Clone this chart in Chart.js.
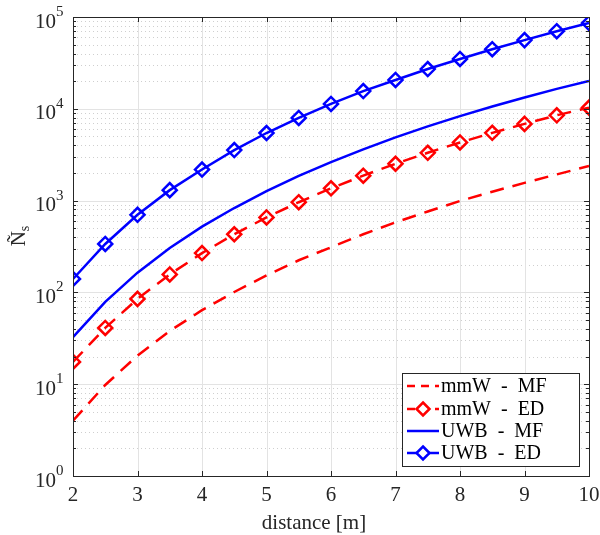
<!DOCTYPE html>
<html>
<head>
<meta charset="utf-8">
<script src="https://cdn.jsdelivr.net/npm/chart.js@4/dist/chart.umd.min.js"></script>
<style>
html,body{margin:0;padding:0;background:#fff;}
#wrap{width:600px;height:535px;}
</style>
</head>
<body>
<div id="wrap"><canvas id="c" width="600" height="535"></canvas></div>
<script>
const distance = [2, 2.5, 3, 3.5, 4, 4.5, 5, 5.5, 6, 6.5, 7, 7.5, 8, 8.5, 9, 9.5, 10];
const mmwMF = [4.0, 9.8, 20.5, 38, 64, 101, 153, 224, 310, 430, 580, 760, 990, 1250, 1560, 1930, 2380];
const mmwED = [17.5, 41, 85, 157, 268, 430, 655, 960, 1360, 1870, 2520, 3320, 4300, 5470, 6850, 8500, 10300];
const uwbMF = [32.5, 79, 164, 305, 520, 830, 1270, 1860, 2630, 3620, 4880, 6430, 8320, 10600, 13300, 16500, 20100];
const uwbED = [140, 337, 700, 1300, 2180, 3550, 5450, 7950, 11300, 15600, 20600, 27100, 34900, 44600, 56000, 70000, 86000];
const seriesNames = ['mmW  -  MF', 'mmW  -  ED', 'UWB  -  MF', 'UWB  -  ED'];
const xTicks = [2, 3, 4, 5, 6, 7, 8, 9, 10];
const yExponents = [0, 1, 2, 3, 4, 5];
const xTitle = 'distance [m]';

const FONT = '"Liberation Serif", "Times New Roman", serif';
const TXT = '#262626';

function pts(arr){ return distance.map((d,i)=>({x:d,y:arr[i]})); }

const datasets = [
  {label: seriesNames[0], data: pts(mmwMF), borderColor:'#ff0000', borderWidth:2.5, borderDash:[14,9], pointRadius:0, fill:false},
  {label: seriesNames[1], data: pts(mmwED), borderColor:'#ff0000', borderWidth:2.5, borderDash:[14,9], pointStyle:'rectRot', pointRadius:7, pointBorderWidth:2.5, pointBackgroundColor:'rgba(0,0,0,0)', pointBorderColor:'#ff0000', fill:false},
  {label: seriesNames[2], data: pts(uwbMF), borderColor:'#0000ff', borderWidth:2.5, pointRadius:0, fill:false},
  {label: seriesNames[3], data: pts(uwbED), borderColor:'#0000ff', borderWidth:2.5, pointStyle:'rectRot', pointRadius:7, pointBorderWidth:2.5, pointBackgroundColor:'rgba(0,0,0,0)', pointBorderColor:'#0000ff', fill:false}
];

const decorPlugin = {
  id:'decor',
  beforeDatasetsDraw(chart){
    const {ctx, chartArea:a, scales:{x,y}} = chart;
    ctx.save();
    ctx.strokeStyle = '#cfcfcf'; ctx.lineWidth = 1; ctx.setLineDash([1,3]);
    for (let e=0;e<5;e++){
      for (let m=2;m<=9;m++){
        const py = Math.round(y.getPixelForValue(m*Math.pow(10,e)))+0.5;
        ctx.beginPath(); ctx.moveTo(a.left,py); ctx.lineTo(a.right,py); ctx.stroke();
      }
    }
    ctx.setLineDash([]);
    ctx.strokeStyle = '#e3e3e3';
    yExponents.forEach(e=>{
      const py = Math.round(y.getPixelForValue(Math.pow(10,e)))+0.5;
      ctx.beginPath(); ctx.moveTo(a.left,py); ctx.lineTo(a.right,py); ctx.stroke();
    });
    xTicks.forEach(v=>{
      const px = Math.round(x.getPixelForValue(v))+0.5;
      ctx.beginPath(); ctx.moveTo(px,a.top); ctx.lineTo(px,a.bottom); ctx.stroke();
    });
    ctx.restore();
  },
  afterDatasetsDraw(chart){
    const {ctx, chartArea:a, scales:{x,y}} = chart;
    ctx.save();
    ctx.strokeStyle = TXT; ctx.lineWidth = 1; ctx.setLineDash([]);
    ctx.strokeRect(Math.round(a.left)+0.5, Math.round(a.top)+0.5, Math.round(a.right-a.left), Math.round(a.bottom-a.top));
    ctx.beginPath();
    xTicks.forEach(v=>{
      const px = Math.round(x.getPixelForValue(v))+0.5;
      ctx.moveTo(px,a.bottom); ctx.lineTo(px,a.bottom-5);
      ctx.moveTo(px,a.top); ctx.lineTo(px,a.top+5);
    });
    yExponents.forEach(e=>{
      const py = Math.round(y.getPixelForValue(Math.pow(10,e)))+0.5;
      ctx.moveTo(a.left,py); ctx.lineTo(a.left+5,py);
      ctx.moveTo(a.right,py); ctx.lineTo(a.right-5,py);
    });
    for (let e=0;e<5;e++){
      for (let m=2;m<=9;m++){
        const py = Math.round(y.getPixelForValue(m*Math.pow(10,e)))+0.5;
        ctx.moveTo(a.left,py); ctx.lineTo(a.left+3,py);
        ctx.moveTo(a.right,py); ctx.lineTo(a.right-3,py);
      }
    }
    ctx.stroke();

    // x tick labels
    ctx.fillStyle = TXT;
    ctx.font = '21px ' + FONT;
    ctx.textAlign = 'center'; ctx.textBaseline = 'middle';
    xTicks.forEach(v=>{ ctx.fillText(String(v), x.getPixelForValue(v), a.bottom+19); });
    // y tick labels 10^e
    yExponents.forEach(e=>{
      const py = y.getPixelForValue(Math.pow(10,e));
      ctx.font = '21px ' + FONT;
      ctx.textAlign = 'right'; ctx.textBaseline = 'middle';
      ctx.fillText('10', 56, py + 5);
      ctx.font = '15px ' + FONT;
      ctx.textAlign = 'left';
      ctx.fillText(String(e), 56, py - 5);
    });
    // x title
    ctx.font = '21px ' + FONT;
    ctx.textAlign = 'center'; ctx.textBaseline = 'middle';
    ctx.fillText(xTitle, 314, 523);
    // y title  N~ with subscript s
    ctx.save();
    ctx.translate(19, 236);
    ctx.rotate(-Math.PI/2);
    ctx.font = '21px ' + FONT;
    ctx.textAlign = 'left'; ctx.textBaseline = 'middle';
    const wN = ctx.measureText('Ñ').width;
    ctx.font = '14px ' + FONT;
    const wS = ctx.measureText('s').width;
    const start = -(wN + wS)/2;
    ctx.font = '21px ' + FONT;
    ctx.fillText('Ñ', start, 0);
    ctx.font = '14px ' + FONT;
    ctx.fillText('s', start + wN, 6);
    ctx.restore();

    // legend
    const lx = 402, ly = 373, lw = 177, lh = 93;
    ctx.fillStyle = '#ffffff';
    ctx.fillRect(lx, ly, lw, lh);
    ctx.strokeStyle = TXT; ctx.lineWidth = 1;
    ctx.strokeRect(lx+0.5, ly+0.5, lw, lh);
    const rows = [386, 409, 431, 453];
    chart.data.datasets.forEach((ds,i)=>{
      const cy = rows[i];
      ctx.save();
      ctx.strokeStyle = ds.borderColor; ctx.lineWidth = ds.borderWidth;
      ctx.setLineDash(ds.borderDash ? [8,6] : []);
      ctx.beginPath(); ctx.moveTo(407,cy); ctx.lineTo(439,cy); ctx.stroke();
      ctx.setLineDash([]);
      if (ds.pointRadius > 0){
        const r = 6.5, cx = 423;
        ctx.fillStyle = '#fff';
        ctx.beginPath();
        ctx.moveTo(cx,cy-r); ctx.lineTo(cx+r,cy); ctx.lineTo(cx,cy+r); ctx.lineTo(cx-r,cy); ctx.closePath();
        ctx.fill(); ctx.stroke();
      }
      ctx.restore();
      ctx.fillStyle = '#000';
      ctx.font = '20px ' + FONT;
      ctx.textAlign = 'left'; ctx.textBaseline = 'middle';
      ctx.fillText(ds.label, 441, cy + 1);
    });
    ctx.restore();
  }
};

new Chart(document.getElementById('c'), {
  type: 'line',
  data: { datasets },
  options: {
    responsive: false,
    animation: false,
    devicePixelRatio: 1,
    layout: { padding: { left: 0, right: 11, top: 17, bottom: 0 } },
    plugins: { legend: { display: false }, tooltip: { enabled: false } },
    elements: { line: { tension: 0 } },
    scales: {
      x: {
        type: 'linear', min: 2, max: 10,
        ticks: { display: false, stepSize: 1 },
        grid: { display: false }, border: { display: false },
        afterFit(s){ s.height = 59; }
      },
      y: {
        type: 'logarithmic', min: 1, max: 100000,
        ticks: { display: false },
        grid: { display: false }, border: { display: false },
        afterFit(s){ s.width = 73; }
      }
    }
  },
  plugins: [decorPlugin]
});
</script>
</body>
</html>
